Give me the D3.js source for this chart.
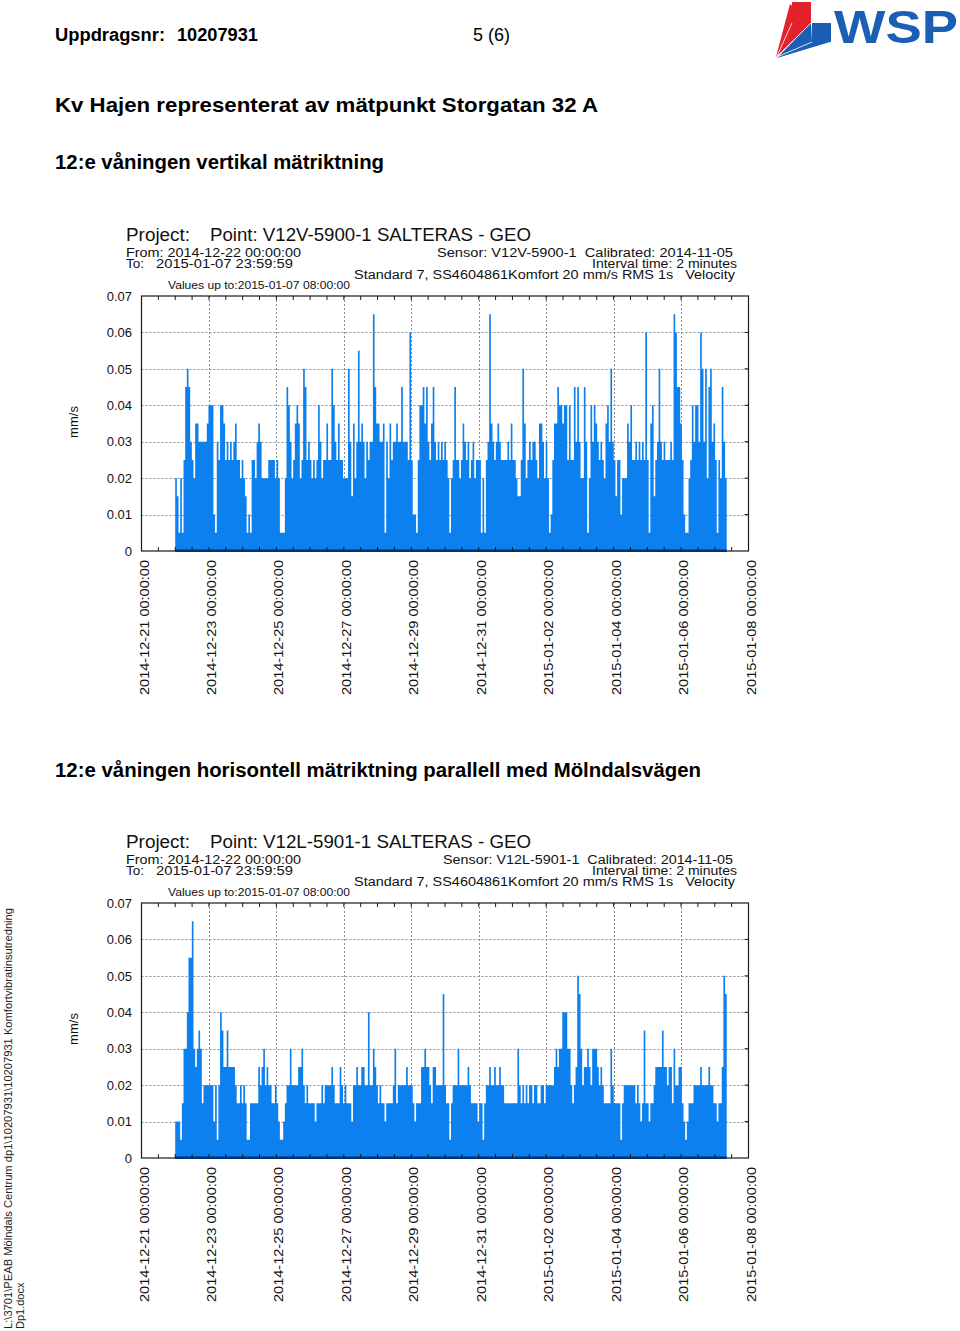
<!DOCTYPE html>
<html><head><meta charset="utf-8">
<script src="https://cdn.jsdelivr.net/npm/d3@7"></script>
<style>
body{margin:0;background:#fff}
svg{display:block;font-family:"Liberation Sans",Arial,Helvetica,sans-serif}
svg text{white-space:pre}
</style>
</head><body>
<svg id="page" width="960" height="1331"></svg>
<script>
// ---------- data ----------
const xTickLabels = ["2014-12-21 00:00:00","2014-12-23 00:00:00","2014-12-25 00:00:00","2014-12-27 00:00:00","2014-12-29 00:00:00","2014-12-31 00:00:00","2015-01-02 00:00:00","2015-01-04 00:00:00","2015-01-06 00:00:00","2015-01-08 00:00:00"];
const yTickValues = [0,0.01,0.02,0.03,0.04,0.05,0.06,0.07];
const yTickLabels = ["0","0.01","0.02","0.03","0.04","0.05","0.06","0.07"];
const dataStart = "2014-12-22 00:00:00";
const dataEnd = "2015-01-07 08:30:00";

// V12V-5900-1 (vertical), max mm/s per interval
const verticalValues = [
0.02,0.015,0.005,0.02,0.005,0.025,0.045,0.05,0.045,0.03,
0.025,0.02,0.035,0.035,0.03,0.03,0.03,0.03,0.03,0.035,
0.04,0.04,0.04,0.01,0.005,0.03,0.025,0.04,0.04,0.035,
0.025,0.03,0.025,0.03,0.025,0.03,0.035,0.025,0.025,0.02,
0.025,0.02,0.015,0.005,0.01,0.005,0.025,0.025,0.02,0.03,
0.035,0.03,0.02,0.02,0.02,0.02,0.025,0.025,0.025,0.025,
0.02,0.025,0.02,0.005,
0.005,0.005,0.02,0.045,0.04,0.03,0.02,0.025,0.035,0.04,
0.035,0.02,0.025,0.05,0.045,0.025,0.03,0.025,0.02,0.025,
0.02,0.025,0.04,0.03,0.02,0.025,0.025,0.035,0.025,0.025,
0.05,0.04,0.03,0.025,0.035,0.025,0.025,0.02,0.02,0.02,
0.05,0.03,0.015,0.035,0.02,0.03,0.055,0.03,0.035,0.03,
0.02,0.03,0.025,0.03,0.03,0.065,0.045,0.035,0.035,0.03,
0.03,0.035,0.005,0.03,0.02,0.035,0.025,0.03,0.03,0.035,
0.03,0.03,0.045,0.03,0.03,0.03,0.025,0.06,0.025,0.01,
0.01,0.005,0.025,0.04,0.04,0.045,0.035,0.045,0.03,0.025,
0.035,0.045,0.03,0.025,0.03,0.025,0.03,0.025,0.03,0.025,
0.02,0.005,0.02,0.025,0.045,0.025,0.025,0.02,0.025,0.035,
0.03,0.025,0.03,0.02,0.025,0.03,0.02,0.025,0.025,0.025,
0.005,0.02,0.005,0.025,0.03,0.065,0.035,0.03,0.025,0.03,
0.035,0.03,0.025,0.025,0.025,0.025,0.03,0.025,0.035,0.025,
0.025,0.02,0.015,0.015,
0.025,0.05,0.035,0.02,0.025,0.03,0.025,0.03,0.03,0.025,
0.02,0.035,0.035,0.03,0.02,0.03,0.02,0.005,0.01,0.025,
0.035,0.035,0.045,0.04,0.04,0.035,0.04,0.04,0.025,0.04,
0.025,0.025,0.045,0.03,0.045,0.03,0.02,0.02,0.045,0.03,
0.005,0.02,0.04,0.03,0.04,0.035,0.03,0.025,0.03,0.025,
0.02,0.035,0.04,0.03,0.05,0.03,0.025,0.015,0.025,0.025,
0.01,0.02,0.02,0.02,0.035,0.03,0.04,0.025,0.025,0.03,
0.025,0.03,0.025,0.03,0.025,0.06,0.025,0.005,0.035,0.04,
0.015,0.025,0.03,0.05,0.03,0.025,0.03,0.025,0.025,0.025,
0.03,0.025,0.065,0.06,0.045,0.045,0.035,0.025,0.01,0.005,
0.005,0.02,0.025,0.04,0.03,0.04,0.04,0.03,0.06,0.05,
0.03,0.05,0.02,0.045,0.05,0.03,0.035,0.025,0.005,0.025,
0.02,0.045,0.03,0.02
];

// V12L-5901-1 (horizontal), max mm/s per interval
const horizontalValues = [
0.01,0.01,0.01,0.005,0.015,0.03,0.03,0.04,0.055,0.055,
0.065,0.03,0.025,0.03,0.035,0.03,0.015,0.02,0.02,0.02,
0.02,0.02,0.02,0.01,0.02,0.005,0.02,0.04,0.035,0.025,
0.025,0.035,0.025,0.025,0.025,0.025,0.02,0.015,0.015,0.02,
0.015,0.02,0.015,0.005,0.005,0.015,0.015,0.015,0.015,0.015,
0.025,0.02,0.025,0.03,0.02,0.025,0.02,0.02,0.015,0.015,
0.02,0.015,0.01,0.005,
0.005,0.01,0.015,0.02,0.02,0.03,0.02,0.02,0.02,0.02,
0.025,0.025,0.03,0.02,0.015,0.02,0.015,0.015,0.015,0.015,
0.01,0.015,0.015,0.015,0.02,0.015,0.02,0.02,0.02,0.02,
0.025,0.02,0.015,0.015,0.015,0.025,0.02,0.015,0.02,0.015,
0.015,0.015,0.01,0.02,0.02,0.025,0.02,0.02,0.025,0.025,
0.02,0.02,0.04,0.02,0.02,0.03,0.025,0.02,0.015,0.02,
0.015,0.015,0.01,0.015,0.015,0.015,0.015,0.02,0.03,0.015,
0.02,0.02,0.02,0.02,0.02,0.025,0.02,0.02,0.02,0.015,
0.01,0.015,0.015,0.015,0.025,0.025,0.03,0.025,0.025,0.02,
0.015,0.025,0.025,0.02,0.02,0.02,0.02,0.045,0.02,0.015,
0.015,0.005,0.015,0.02,0.02,0.02,0.03,0.02,0.02,0.02,
0.02,0.02,0.025,0.02,0.015,0.015,0.015,0.015,0.01,0.015,
0.015,0.005,0.015,0.02,0.02,0.025,0.02,0.02,0.025,0.02,
0.02,0.025,0.02,0.02,0.015,0.015,0.015,0.015,0.015,0.015,
0.015,0.015,0.03,0.02,
0.015,0.02,0.015,0.02,0.015,0.02,0.02,0.015,0.02,0.02,
0.015,0.015,0.02,0.02,0.015,0.02,0.02,0.02,0.02,0.02,
0.025,0.03,0.025,0.03,0.03,0.04,0.04,0.04,0.03,0.03,
0.02,0.015,0.02,0.025,0.05,0.045,0.03,0.02,0.025,0.025,
0.03,0.025,0.02,0.03,0.03,0.03,0.025,0.02,0.025,0.02,
0.015,0.015,0.015,0.015,0.03,0.02,0.015,0.015,0.015,0.015,
0.005,0.015,0.02,0.02,0.02,0.02,0.02,0.02,0.02,0.015,
0.02,0.015,0.01,0.015,0.035,0.015,0.015,0.01,0.015,0.015,
0.02,0.025,0.025,0.025,0.025,0.035,0.025,0.025,0.02,0.025,
0.025,0.015,0.03,0.02,0.02,0.025,0.025,0.015,0.01,0.005,
0.01,0.015,0.015,0.015,0.02,0.02,0.02,0.02,0.025,0.02,
0.02,0.02,0.02,0.025,0.02,0.02,0.015,0.015,0.01,0.015,
0.015,0.025,0.05,0.045
];

// ---------- drawing ----------
const svg = d3.select("#page");
const parse = d3.timeParse("%Y-%m-%d %H:%M:%S");
const BLUE = "#0b80ee";

// page header
function txt(x, y, s, size, weight, len, anchor){
  const t = svg.append("text").attr("x", x).attr("y", y).text(s)
    .attr("font-size", size).attr("font-weight", weight || "normal").attr("fill", "#000");
  if (len) t.attr("textLength", len).attr("lengthAdjust", "spacingAndGlyphs");
  if (anchor) t.attr("text-anchor", anchor);
  return t;
}
txt(55, 41, "Uppdragsnr:", 18, "bold", 110);
txt(177, 41, "10207931", 18, "bold", 81);
txt(473, 41, "5 (6)", 18, "normal", 37);
txt(55, 112, "Kv Hajen representerat av mätpunkt Storgatan 32 A", 21, "bold", 543);
txt(55, 169, "12:e våningen vertikal mätriktning", 20, "bold", 329);
txt(55, 777, "12:e våningen horisontell mätriktning parallell med Mölndalsvägen", 20, "bold", 646);

// side path text
svg.append("text").attr("transform", "translate(12,1329) rotate(-90)")
  .attr("font-size", 11).attr("fill", "#222")
  .attr("textLength", 421).attr("lengthAdjust", "spacingAndGlyphs")
  .text("L:\\3701\\PEAB Mölndals Centrum dp1\\10207931\\10207931 Komfortvibratinsutredning");
svg.append("text").attr("transform", "translate(24,1329) rotate(-90)")
  .attr("font-size", 11).attr("fill", "#222").text("Dp1.docx");

// WSP logo
const logo = svg.append("g");
logo.append("polygon").attr("points", "790,4 811,23 776,57").attr("fill", "#e4222b");
logo.append("polygon").attr("points", "811,23 812,42 830,42 777,58").attr("fill", "#1a5fb4");
logo.append("rect").attr("x", 792).attr("y", 2).attr("width", 19).attr("height", 21).attr("fill", "#e4222b");
logo.append("rect").attr("x", 812).attr("y", 23).attr("width", 19).attr("height", 19).attr("fill", "#1a5fb4");
logo.append("line").attr("x1", 792).attr("y1", 23).attr("x2", 777).attr("y2", 56).attr("stroke", "#fff").attr("stroke-width", 0.8);
logo.append("line").attr("x1", 812).attr("y1", 42).attr("x2", 777).attr("y2", 57).attr("stroke", "#fff").attr("stroke-width", 0.8);
logo.append("line").attr("x1", 811).attr("y1", 23).attr("x2", 777).attr("y2", 57).attr("stroke", "#fff").attr("stroke-width", 0.8);
logo.append("text").attr("x", 834).attr("y", 43).attr("font-size", 47).attr("font-weight", "900")
  .attr("fill", "#1a5fb4").attr("textLength", 124).attr("lengthAdjust", "spacingAndGlyphs").text("WSP");

function drawChart(cfg){
  const L = 141.5, R = 748.5, T = cfg.top, B = cfg.top + 255;
  const g = svg.append("g");
  const tickDates = xTickLabels.map(parse);
  const x = d3.scaleTime().domain([tickDates[0], tickDates[tickDates.length - 1]]).range([L, R]);
  const y = d3.scaleLinear().domain([0, 0.07]).range([B, T]);

  // header texts
  const hx = (s, xx, yy, size, len, anchor) => {
    const t = g.append("text").attr("x", xx).attr("y", yy).attr("font-size", size).attr("fill", "#111").text(s);
    if (len) t.attr("textLength", len).attr("lengthAdjust", "spacingAndGlyphs");
    if (anchor) t.attr("text-anchor", anchor);
  };
  hx("Project:", 126, T - 55, 17.5, 64);
  hx(cfg.point, 210, T - 55, 17.5, 321);
  hx("From: 2014-12-22 00:00:00", 126, T - 39, 12, 175);
  hx("To:", 126, T - 28, 12, 18);
  hx("2015-01-07 23:59:59", 156, T - 28, 12, 137);
  hx(cfg.sensor, cfg.sensorX, T - 39, 12, 733 - cfg.sensorX);
  hx("Interval time: 2 minutes", 592, T - 28, 12, 145);
  hx("Standard 7, SS4604861Komfort 20 mm/s RMS 1s   Velocity", 354, T - 17, 12.5, 381);
  hx("Values up to:2015-01-07 08:00:00", 168, T - 7, 11, 182);

  // grid
  const grid = g.append("g").attr("stroke", "#8c8c8c").attr("stroke-width", 1).attr("stroke-dasharray", "2,2");
  grid.selectAll("line.h").data(yTickValues.slice(1, -1)).join("line")
    .attr("x1", L).attr("x2", R).attr("y1", d => Math.round(y(d)) + 0.5).attr("y2", d => Math.round(y(d)) + 0.5);
  grid.selectAll("line.v").data(tickDates.slice(1, -1)).join("line")
    .attr("y1", T).attr("y2", B).attr("x1", d => Math.round(x(d)) + 0.5).attr("x2", d => Math.round(x(d)) + 0.5);

  // data (step bars)
  const start = parse(dataStart), end = parse(dataEnd);
  const vals = cfg.values;
  const stepMs = (end - start) / vals.length;
  const pts = vals.map((v, i) => ({t: new Date(+start + i * stepMs), v}));
  pts.push({t: end, v: vals[vals.length - 1]});
  const area = d3.area().x(d => x(d.t)).y0(y(0)).y1(d => y(d.v)).curve(d3.curveStepAfter);
  g.append("path").datum(pts).attr("d", area).attr("fill", BLUE);

  // frame
  g.append("rect").attr("x", L).attr("y", T).attr("width", R - L).attr("height", B - T)
    .attr("fill", "none").attr("stroke", "#1a1a1a").attr("stroke-width", 1.2);
  // navy data baseline
  g.append("line").attr("x1", x(start)).attr("x2", x(end)).attr("y1", y(0) - 0.3).attr("y2", y(0) - 0.3)
    .attr("stroke", "#0a2f6c").attr("stroke-width", 2.6);

  // minor ticks (12 h) top and bottom, inward
  const minor = d3.timeHour.every(12).range(tickDates[0], tickDates[tickDates.length - 1]).slice(1);
  const tk = g.append("g").attr("stroke", "#1a1a1a").attr("stroke-width", 1);
  tk.selectAll("line.t").data(minor).join("line")
    .attr("x1", d => x(d)).attr("x2", d => x(d)).attr("y1", T).attr("y2", T + 4);
  tk.selectAll("line.b").data(minor).join("line")
    .attr("x1", d => x(d)).attr("x2", d => x(d)).attr("y1", B).attr("y2", B - 4);
  tk.selectAll("line.r").data(yTickValues.slice(1, -1)).join("line")
    .attr("x1", R).attr("x2", R - 4).attr("y1", d => y(d)).attr("y2", d => y(d));

  // y labels
  g.selectAll("text.yl").data(yTickValues).join("text")
    .attr("x", 132).attr("y", d => y(d)).attr("dy", "0.36em").attr("text-anchor", "end")
    .attr("font-size", 13).attr("fill", "#111").text((d, i) => yTickLabels[i]);
  g.append("text").attr("transform", `translate(78,${T + 126}) rotate(-90)`).attr("text-anchor", "middle")
    .attr("font-size", 13).attr("fill", "#111").text("mm/s");

  // x labels
  g.selectAll("text.xl").data(tickDates).join("text")
    .attr("transform", d => `translate(${x(d) + 7},${B + 9}) rotate(-90)`)
    .attr("text-anchor", "end").attr("font-size", 13.5).attr("fill", "#111")
    .attr("textLength", 135).attr("lengthAdjust", "spacingAndGlyphs")
    .text((d, i) => xTickLabels[i]);
}

drawChart({top: 296, values: verticalValues, point: "Point: V12V-5900-1 SALTERAS - GEO",
  sensor: "Sensor: V12V-5900-1  Calibrated: 2014-11-05", sensorX: 437});
drawChart({top: 903, values: horizontalValues, point: "Point: V12L-5901-1 SALTERAS - GEO",
  sensor: "Sensor: V12L-5901-1  Calibrated: 2014-11-05", sensorX: 443});
</script>
</body></html>
